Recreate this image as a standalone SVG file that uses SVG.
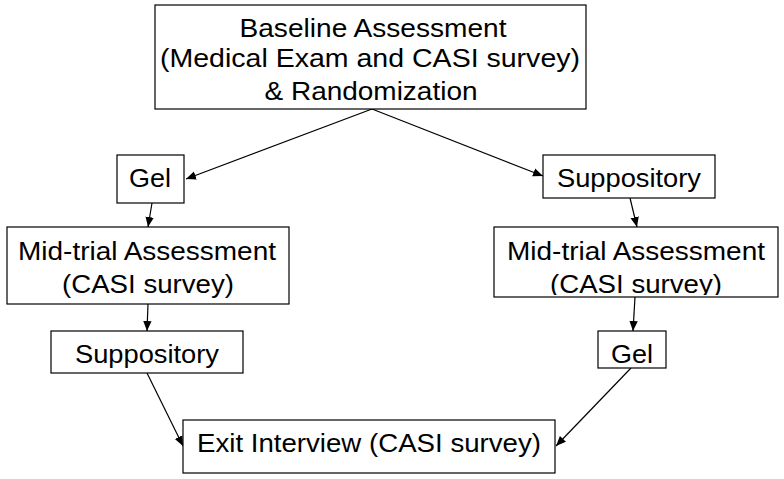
<svg xmlns="http://www.w3.org/2000/svg" width="784" height="479" viewBox="0 0 784 479">
<style>
.box{fill:#fff;stroke:#000;stroke-width:1.2}
.t{font-family:"Liberation Sans",Arial,sans-serif;font-size:26px;fill:#000;text-anchor:middle}
.c{stroke:#000;stroke-width:1.2;fill:none;marker-end:url(#ah)}
</style>
<defs>
<marker id="ah" viewBox="0 0 10 10" refX="10" refY="5" markerWidth="10" markerHeight="10" markerUnits="userSpaceOnUse" orient="auto">
<path d="M0,0.8 L10,5 L0,9.2 Z" fill="#000"/>
</marker>
<clipPath id="cr"><rect x="494" y="227" width="284" height="68"/></clipPath>
</defs>
<rect width="784" height="479" fill="#fff"/>
<g id="connectors">
<line class="c" x1="372" y1="109" x2="186" y2="179"/>
<line class="c" x1="372" y1="109" x2="543" y2="176"/>
<line class="c" x1="152" y1="203" x2="148" y2="227"/>
<line class="c" x1="630" y1="198" x2="637" y2="227"/>
<line class="c" x1="148" y1="304" x2="147" y2="331"/>
<line class="c" x1="635" y1="297" x2="633" y2="331"/>
<line class="c" x1="147" y1="373" x2="183" y2="446"/>
<line class="c" x1="631" y1="368" x2="556" y2="446"/>
</g>
<g id="baseline">
<rect class="box" x="155" y="5" width="431" height="104"/>
<text class="t" x="373" y="37" textLength="267" lengthAdjust="spacingAndGlyphs">Baseline Assessment</text>
<text class="t" x="370" y="67" textLength="420" lengthAdjust="spacingAndGlyphs">(Medical Exam and CASI survey)</text>
<text class="t" x="371" y="100" textLength="213" lengthAdjust="spacingAndGlyphs">&amp; Randomization</text>
</g>
<g id="gel-left">
<rect class="box" x="117" y="155" width="67" height="48"/>
<text class="t" x="150" y="187" textLength="42" lengthAdjust="spacingAndGlyphs">Gel</text>
</g>
<g id="supp-right">
<rect class="box" x="543" y="155" width="172" height="43"/>
<text class="t" x="629" y="187" textLength="144" lengthAdjust="spacingAndGlyphs">Suppository</text>
</g>
<g id="mid-left">
<rect class="box" x="7" y="227" width="282" height="77"/>
<text class="t" x="147" y="260" textLength="258" lengthAdjust="spacingAndGlyphs">Mid-trial Assessment</text>
<text class="t" x="148" y="293" textLength="172" lengthAdjust="spacingAndGlyphs">(CASI survey)</text>
</g>
<g id="mid-right">
<rect class="box" x="494" y="227" width="284" height="70"/>
<g clip-path="url(#cr)">
<text class="t" x="636" y="260" textLength="258" lengthAdjust="spacingAndGlyphs">Mid-trial Assessment</text>
<text class="t" x="636" y="293" textLength="172" lengthAdjust="spacingAndGlyphs">(CASI survey)</text>
</g>
</g>
<g id="supp-left">
<rect class="box" x="51" y="331" width="192" height="42"/>
<text class="t" x="147" y="363" textLength="144" lengthAdjust="spacingAndGlyphs">Suppository</text>
</g>
<g id="gel-right">
<rect class="box" x="598" y="331" width="68" height="37"/>
<text class="t" x="632" y="363" textLength="42" lengthAdjust="spacingAndGlyphs">Gel</text>
</g>
<g id="exit">
<rect class="box" x="183" y="420" width="372" height="53"/>
<text class="t" x="369" y="452" textLength="344" lengthAdjust="spacingAndGlyphs">Exit Interview (CASI survey)</text>
</g>
</svg>
